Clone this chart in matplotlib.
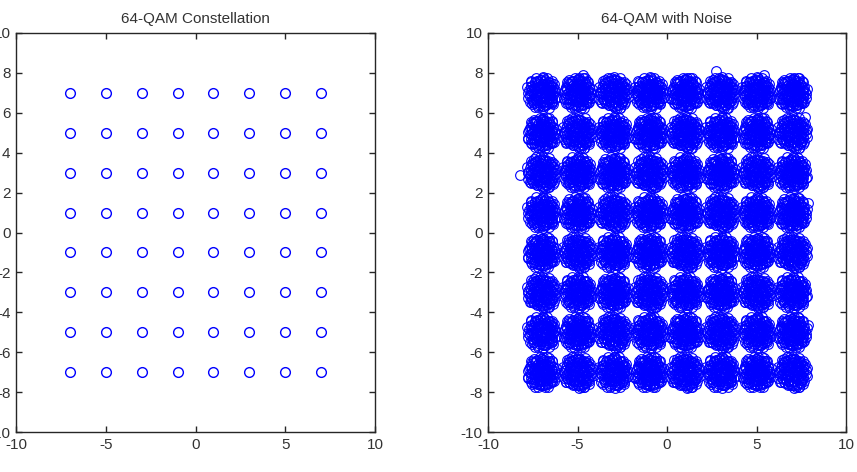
import numpy as np
import matplotlib
matplotlib.use("Agg")
import matplotlib.pyplot as plt

# 64-QAM levels on each axis
levels = [-7, -5, -3, -1, 1, 3, 5, 7]

# hand-typed spread of received samples around a constellation point
patternA = [(0.02, 0.01), (-0.15, 0.10), (0.18, -0.08), (0.05, 0.22), (-0.08, -0.20), (0.25, 0.15),
            (-0.24, -0.06), (0.12, -0.27), (-0.20, 0.25), (0.28, -0.02),
            (0.40, 0.10), (-0.38, 0.18), (0.30, 0.32), (-0.30, -0.30), (0.10, 0.42), (-0.05, -0.44),
            (0.38, -0.25), (-0.42, -0.10), (0.22, -0.40), (-0.18, 0.42), (0.45, -0.08), (-0.12, 0.35),
            (0.34, 0.05), (-0.34, 0.02),
            (0.58, 0.12), (-0.56, 0.20), (0.48, 0.38), (-0.50, -0.32), (0.15, 0.60), (-0.12, -0.60),
            (0.52, -0.30), (-0.38, 0.52), (0.30, -0.55), (-0.60, -0.05), (0.62, -0.10), (0.05, -0.64),
            (-0.25, 0.60), (0.40, 0.55), (-0.62, 0.30), (0.64, 0.28), (-0.45, -0.50), (0.20, -0.62),
            (-0.05, 0.66), (0.55, -0.45),
            (0.72, 0.05), (-0.70, 0.15), (0.10, 0.74), (-0.20, -0.72), (0.55, 0.58), (-0.58, 0.55),
            (0.60, -0.50), (-0.55, -0.58), (0.78, -0.25), (-0.76, -0.25), (0.30, 0.75), (-0.35, -0.72)]

patternB = [(-0.03, 0.04), (0.14, 0.12), (-0.18, -0.10), (0.08, -0.18), (-0.10, 0.22), (0.26, -0.12),
            (-0.27, 0.08), (0.02, 0.30), (0.20, 0.24), (-0.22, -0.26),
            (0.42, 0.02), (-0.40, -0.12), (0.32, -0.34), (-0.28, 0.36), (0.06, -0.45), (-0.04, 0.46),
            (0.36, 0.30), (-0.44, 0.20), (0.18, 0.40), (-0.16, -0.42), (0.44, -0.18), (-0.36, -0.36),
            (0.28, 0.10), (-0.10, -0.32),
            (0.60, 0.05), (-0.58, -0.08), (0.45, 0.45), (-0.46, 0.44), (0.50, -0.40), (-0.42, -0.52),
            (0.08, 0.62), (-0.10, -0.62), (0.62, 0.26), (-0.64, 0.24), (0.28, -0.60), (-0.30, 0.58),
            (0.62, -0.22), (-0.60, -0.30), (0.26, 0.58), (-0.24, -0.60), (0.00, -0.66), (0.02, 0.68),
            (0.48, -0.52), (-0.52, 0.50),
            (0.74, -0.08), (-0.74, 0.05), (0.20, -0.76), (-0.12, 0.76), (0.60, 0.55), (-0.62, -0.50),
            (0.66, -0.45), (-0.45, 0.66), (0.80, 0.20), (-0.78, -0.30), (0.40, 0.72), (0.35, -0.74)]

patternC = [(0.04, -0.03), (-0.12, -0.14), (0.16, 0.14), (-0.20, 0.06), (0.10, -0.24), (-0.06, 0.24),
            (0.24, 0.02), (-0.26, -0.20), (0.22, -0.22), (-0.14, 0.28),
            (0.46, 0.14), (-0.46, 0.02), (0.24, 0.44), (-0.30, 0.40), (0.38, -0.32), (-0.34, -0.34),
            (0.00, 0.44), (0.12, -0.46), (-0.20, -0.46), (0.40, 0.28), (-0.44, 0.24), (0.46, -0.12),
            (0.30, 0.20), (-0.32, -0.10),
            (0.62, 0.02), (-0.62, 0.10), (0.54, 0.36), (-0.54, -0.36), (0.36, 0.56), (-0.40, 0.54),
            (0.42, -0.52), (-0.26, -0.62), (0.16, 0.64), (-0.08, 0.64), (0.08, -0.65), (0.60, -0.28),
            (-0.64, -0.16), (-0.58, 0.36), (0.64, 0.30), (0.24, -0.62), (-0.48, -0.48), (0.50, 0.50),
            (-0.18, 0.60), (0.56, -0.40),
            (0.76, 0.12), (-0.76, -0.02), (0.05, 0.78), (0.10, -0.78), (-0.60, 0.60), (0.62, -0.58),
            (0.70, 0.42), (-0.66, -0.48), (-0.30, 0.76), (0.38, -0.74), (0.82, -0.20), (-0.80, 0.28)]

# stray samples
outliersX = [-8.2, -4.7, 2.75, 5.4, 7.7, 7.9, 7.9]
outliersY = [2.9, 7.9, 8.1, 7.9, 5.8, 1.5, -4.65]

xticks = [-10, -5, 0, 5, 10]
yticks = [-10, -8, -6, -4, -2, 0, 2, 4, 6, 8, 10]

textColor = "#333333"
plt.rcParams["font.family"] = ["Liberation Sans", "DejaVu Sans"]
plt.rcParams["font.size"] = 11
plt.rcParams["axes.unicode_minus"] = False


def styleAxes(ax, title):
    ax.set_xlim(-10, 10)
    ax.set_ylim(-10, 10)
    ax.set_xticks(xticks)
    ax.set_yticks(yticks)
    ax.tick_params(direction="in", length=4, width=1, top=True, right=True,
                   colors="#262626", labelcolor=textColor, pad=4)
    for spine in ax.spines.values():
        spine.set_color("#262626")
        spine.set_linewidth(1)
    ax.set_title(title, color=textColor, fontsize=11, pad=7)


# ideal constellation
idealX, idealY = np.meshgrid(levels, levels)
idealX = idealX.ravel()
idealY = idealY.ravel()

# received samples = ideal point + two of the spread patterns
patterns = [patternA, patternB, patternC]
noisyX = []
noisyY = []
for i, lx in enumerate(levels):
    for j, ly in enumerate(levels):
        k = (i + 2 * j) % 3
        pat = patterns[k] + patterns[(k + 1) % 3]
        for dx, dy in pat:
            noisyX.append(lx + dx)
            noisyY.append(ly + dy)
noisyX += outliersX
noisyY += outliersY

fig = plt.figure(figsize=(8.57, 4.72), dpi=100)
ax1 = fig.add_axes([16 / 857, 40 / 472, 359 / 857, 399 / 472])
ax2 = fig.add_axes([488 / 857, 40 / 472, 358 / 857, 399 / 472])

ax1.plot(idealX, idealY, "o", markerfacecolor="none", markeredgecolor="#0000ff",
         markersize=7, markeredgewidth=1.0)
styleAxes(ax1, "64-QAM Constellation")

ax2.plot(noisyX, noisyY, "o", markerfacecolor="none", markeredgecolor="#0000ff",
         markersize=7, markeredgewidth=0.8)
styleAxes(ax2, "64-QAM with Noise")

fig.savefig("out.png", dpi=100)
